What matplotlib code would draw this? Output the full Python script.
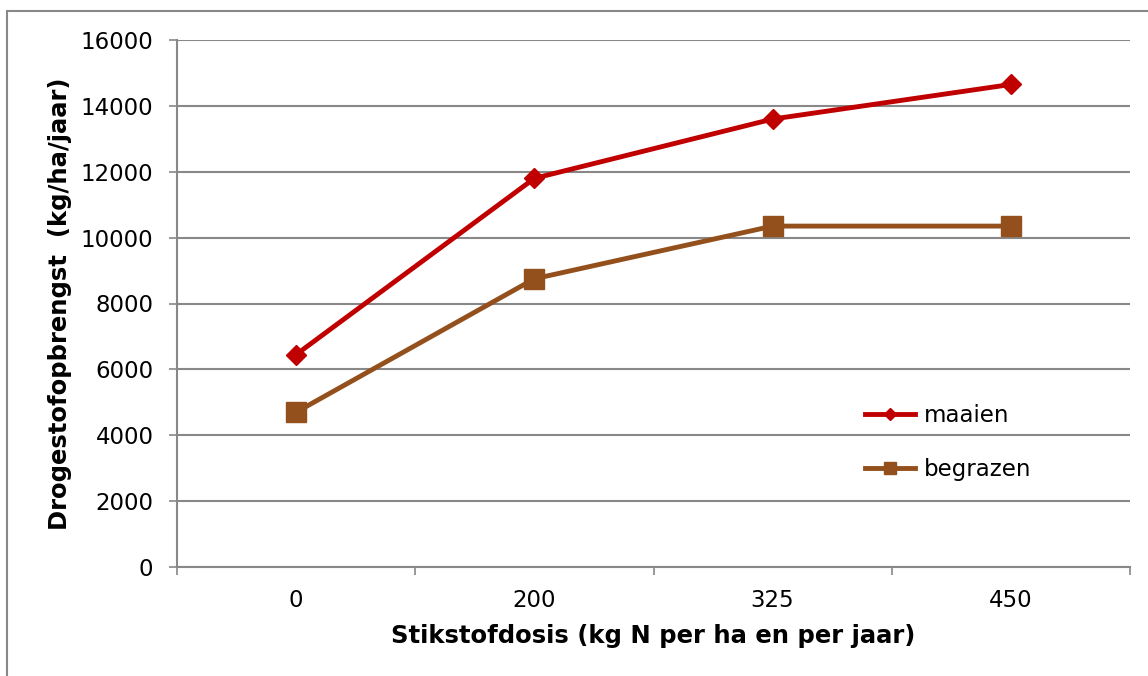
import matplotlib
matplotlib.use('Agg')
import matplotlib.pyplot as plt
from matplotlib.patches import Rectangle

## data
doses = ['0', '200', '325', '450']
maaien = [6450, 11800, 13600, 14650]
begrazen = [4700, 8750, 10350, 10350]
yticks = [0, 2000, 4000, 6000, 8000, 10000, 12000, 14000, 16000]

red = '#C00000'
brown = '#93501C'
grey = '#888888'

plt.rcParams['font.family'] = 'DejaVu Sans'

fig = plt.figure(figsize = [11.48, 6.76], dpi = 100)
ax = fig.add_axes([177 / 1148, 1 - 567 / 676, 953 / 1148, 527 / 676])

x = range(len(doses))
ax.plot(x, maaien, color = red, lw = 3.5, marker = 'D', ms = 10, label = 'maaien')
ax.plot(x, begrazen, color = brown, lw = 3.5, marker = 's', ms = 14, label = 'begrazen')

ax.set_xlim(-0.5, len(doses) - 0.5)
ax.set_ylim(0, 16000)
ax.set_yticks(yticks)
ax.set_xticks(list(x))
ax.set_xticklabels(doses)
ax.set_xticks([i - 0.5 for i in range(len(doses) + 1)], minor = True)

ax.yaxis.grid(True, color = grey, lw = 1.5)
ax.set_axisbelow(True)
for s in ['top', 'right']:
    ax.spines[s].set_visible(False)
for s in ['left', 'bottom']:
    ax.spines[s].set_color(grey)
    ax.spines[s].set_linewidth(1.5)

ax.tick_params(axis = 'y', length = 6, width = 1.2, color = grey, pad = 11, labelsize = 16.5)
ax.tick_params(axis = 'x', which = 'major', length = 0, pad = 16, labelsize = 16.5)
ax.tick_params(axis = 'x', which = 'minor', length = 6, width = 1.2, color = grey)

ax.set_ylabel('Drogestofopbrengst  (kg/ha/jaar)', fontsize = 17.5, fontweight = 'bold')
ax.yaxis.set_label_coords(-0.11, 0.5)
ax.set_xlabel('Stikstofdosis (kg N per ha en per jaar)', fontsize = 17.5, fontweight = 'bold')
ax.xaxis.set_label_coords(0.5, -0.108)

ax.legend(
    loc = 'upper left', bbox_to_anchor = (0.722, 0.31),
    frameon = False, borderpad = 0, borderaxespad = 0,
    handlelength = 2.2, handletextpad = 0.35, labelspacing = 1.35,
    markerscale = 0.65, fontsize = 16.5,
)

# chart frame (cut off at right and bottom)
fig.add_artist(Rectangle(
    (7 / 1148, -0.5), 2, 0.5 + 1 - 11 / 676,
    transform = fig.transFigure, fill = False, edgecolor = grey, lw = 1.5,
))

plt.savefig('out.png', dpi = 100)
